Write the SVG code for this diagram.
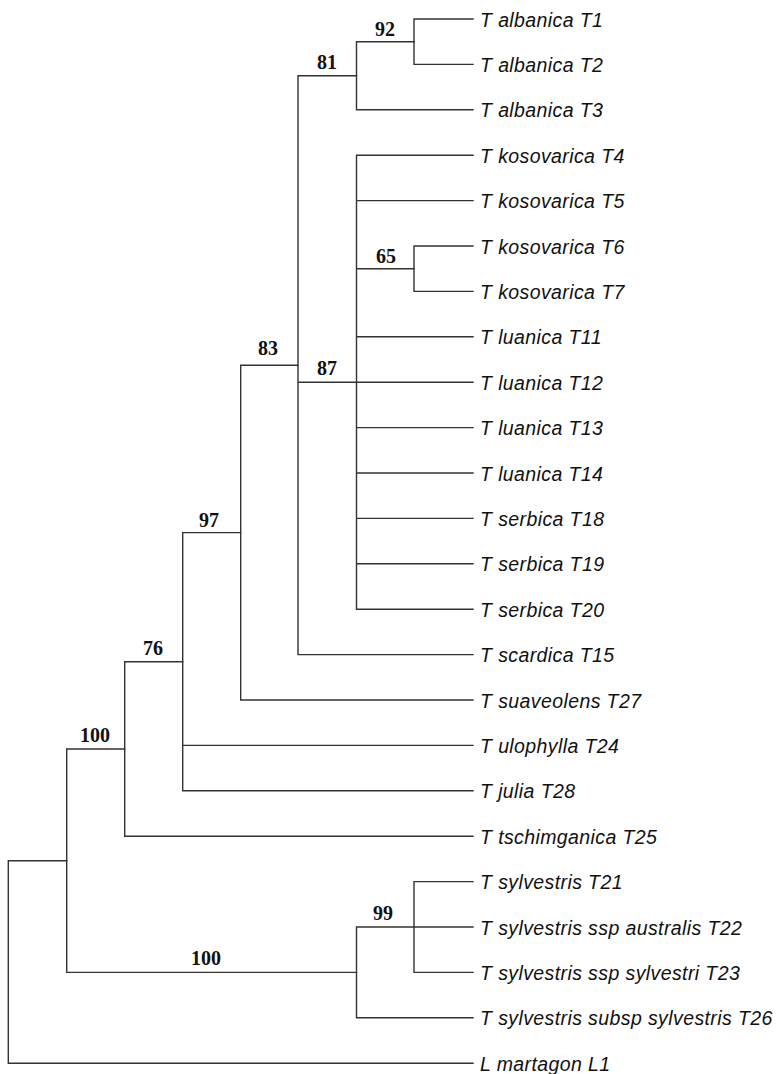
<svg xmlns="http://www.w3.org/2000/svg" width="780" height="1074" viewBox="0 0 780 1074">
<style>
.br{stroke:#333;stroke-width:1.4;fill:none;stroke-linecap:square}
.leaf{font-family:"Liberation Sans",Arial,sans-serif;font-style:italic;font-size:19.5px;letter-spacing:0.4px;fill:#111}
.sup{font-family:"Liberation Serif","Times New Roman",serif;font-weight:bold;font-size:20px;fill:#111;text-anchor:middle}
</style>
<rect width="780" height="1074" fill="#fff"/>
<g id="connectors" class="br">
<path d="M8.3 860.7V1063.2M8.3 860.7H66.7M8.3 1063.2H473"/>
<path d="M66.7 749V972.4M66.7 749H124.7M66.7 972.4H356.5"/>
<path d="M124.7 661.7V836.2M124.7 661.7H182.7M124.7 836.2H473"/>
<path d="M182.7 532.6V790.8M182.7 532.6H240.7M182.7 745.4H473M182.7 790.8H473"/>
<path d="M240.7 365.2V700M240.7 365.2H298M240.7 700H473"/>
<path d="M298 75.75V654.6M298 75.75H356.5M298 382.2H356.5M298 654.6H473"/>
<path d="M356.5 41.7V109.8M356.5 41.7H414M356.5 109.8H473"/>
<path d="M414 19V64.4M414 19H473M414 64.4H473"/>
<path d="M356.5 155.2V609.2M356.5 155.2H473M356.5 200.6H473M356.5 268.7H414M356.5 336.8H473M356.5 382.2H473M356.5 427.6H473M356.5 473H473M356.5 518.4H473M356.5 563.8H473M356.5 609.2H473"/>
<path d="M414 246V291.4M414 246H473M414 291.4H473"/>
<path d="M356.5 927V1017.8M356.5 927H414M356.5 1017.8H473"/>
<path d="M414 881.6V972.4M414 881.6H473M414 927H473M414 972.4H473"/>
</g>
<g id="n92"><text class="sup" x="385" y="36">92</text></g>
<g id="n81"><text class="sup" x="327" y="69">81</text></g>
<g id="n65"><text class="sup" x="386" y="263">65</text></g>
<g id="n87"><text class="sup" x="327" y="375">87</text></g>
<g id="n83"><text class="sup" x="268" y="355">83</text></g>
<g id="n97"><text class="sup" x="209" y="527">97</text></g>
<g id="n76"><text class="sup" x="153" y="655">76</text></g>
<g id="n100a"><text class="sup" x="95" y="742">100</text></g>
<g id="n99"><text class="sup" x="383" y="920">99</text></g>
<g id="n100b"><text class="sup" x="206" y="965">100</text></g>
<g id="T1"><text class="leaf" x="480" y="26.5">T albanica T1</text></g>
<g id="T2"><text class="leaf" x="480" y="71.9">T albanica T2</text></g>
<g id="T3"><text class="leaf" x="480" y="117.3">T albanica T3</text></g>
<g id="T4"><text class="leaf" x="480" y="162.7">T kosovarica T4</text></g>
<g id="T5"><text class="leaf" x="480" y="208.1">T kosovarica T5</text></g>
<g id="T6"><text class="leaf" x="480" y="253.5">T kosovarica T6</text></g>
<g id="T7"><text class="leaf" x="480" y="298.9">T kosovarica T7</text></g>
<g id="T11"><text class="leaf" x="480" y="344.3">T luanica T11</text></g>
<g id="T12"><text class="leaf" x="480" y="389.7">T luanica T12</text></g>
<g id="T13"><text class="leaf" x="480" y="435.1">T luanica T13</text></g>
<g id="T14"><text class="leaf" x="480" y="480.5">T luanica T14</text></g>
<g id="T18"><text class="leaf" x="480" y="525.9">T serbica T18</text></g>
<g id="T19"><text class="leaf" x="480" y="571.3">T serbica T19</text></g>
<g id="T20"><text class="leaf" x="480" y="616.7">T serbica T20</text></g>
<g id="T15"><text class="leaf" x="480" y="662.1">T scardica T15</text></g>
<g id="T27"><text class="leaf" x="480" y="707.5">T suaveolens T27</text></g>
<g id="T24"><text class="leaf" x="480" y="752.9">T ulophylla T24</text></g>
<g id="T28"><text class="leaf" x="480" y="798.3">T julia T28</text></g>
<g id="T25"><text class="leaf" x="480" y="843.7">T tschimganica T25</text></g>
<g id="T21"><text class="leaf" x="480" y="889.1">T sylvestris T21</text></g>
<g id="T22"><text class="leaf" x="480" y="934.5">T sylvestris ssp australis T22</text></g>
<g id="T23"><text class="leaf" x="480" y="979.9">T sylvestris ssp sylvestri T23</text></g>
<g id="T26"><text class="leaf" x="480" y="1025.3">T sylvestris subsp sylvestris T26</text></g>
<g id="L1"><text class="leaf" x="480" y="1070.7">L martagon L1</text></g>
</svg>
